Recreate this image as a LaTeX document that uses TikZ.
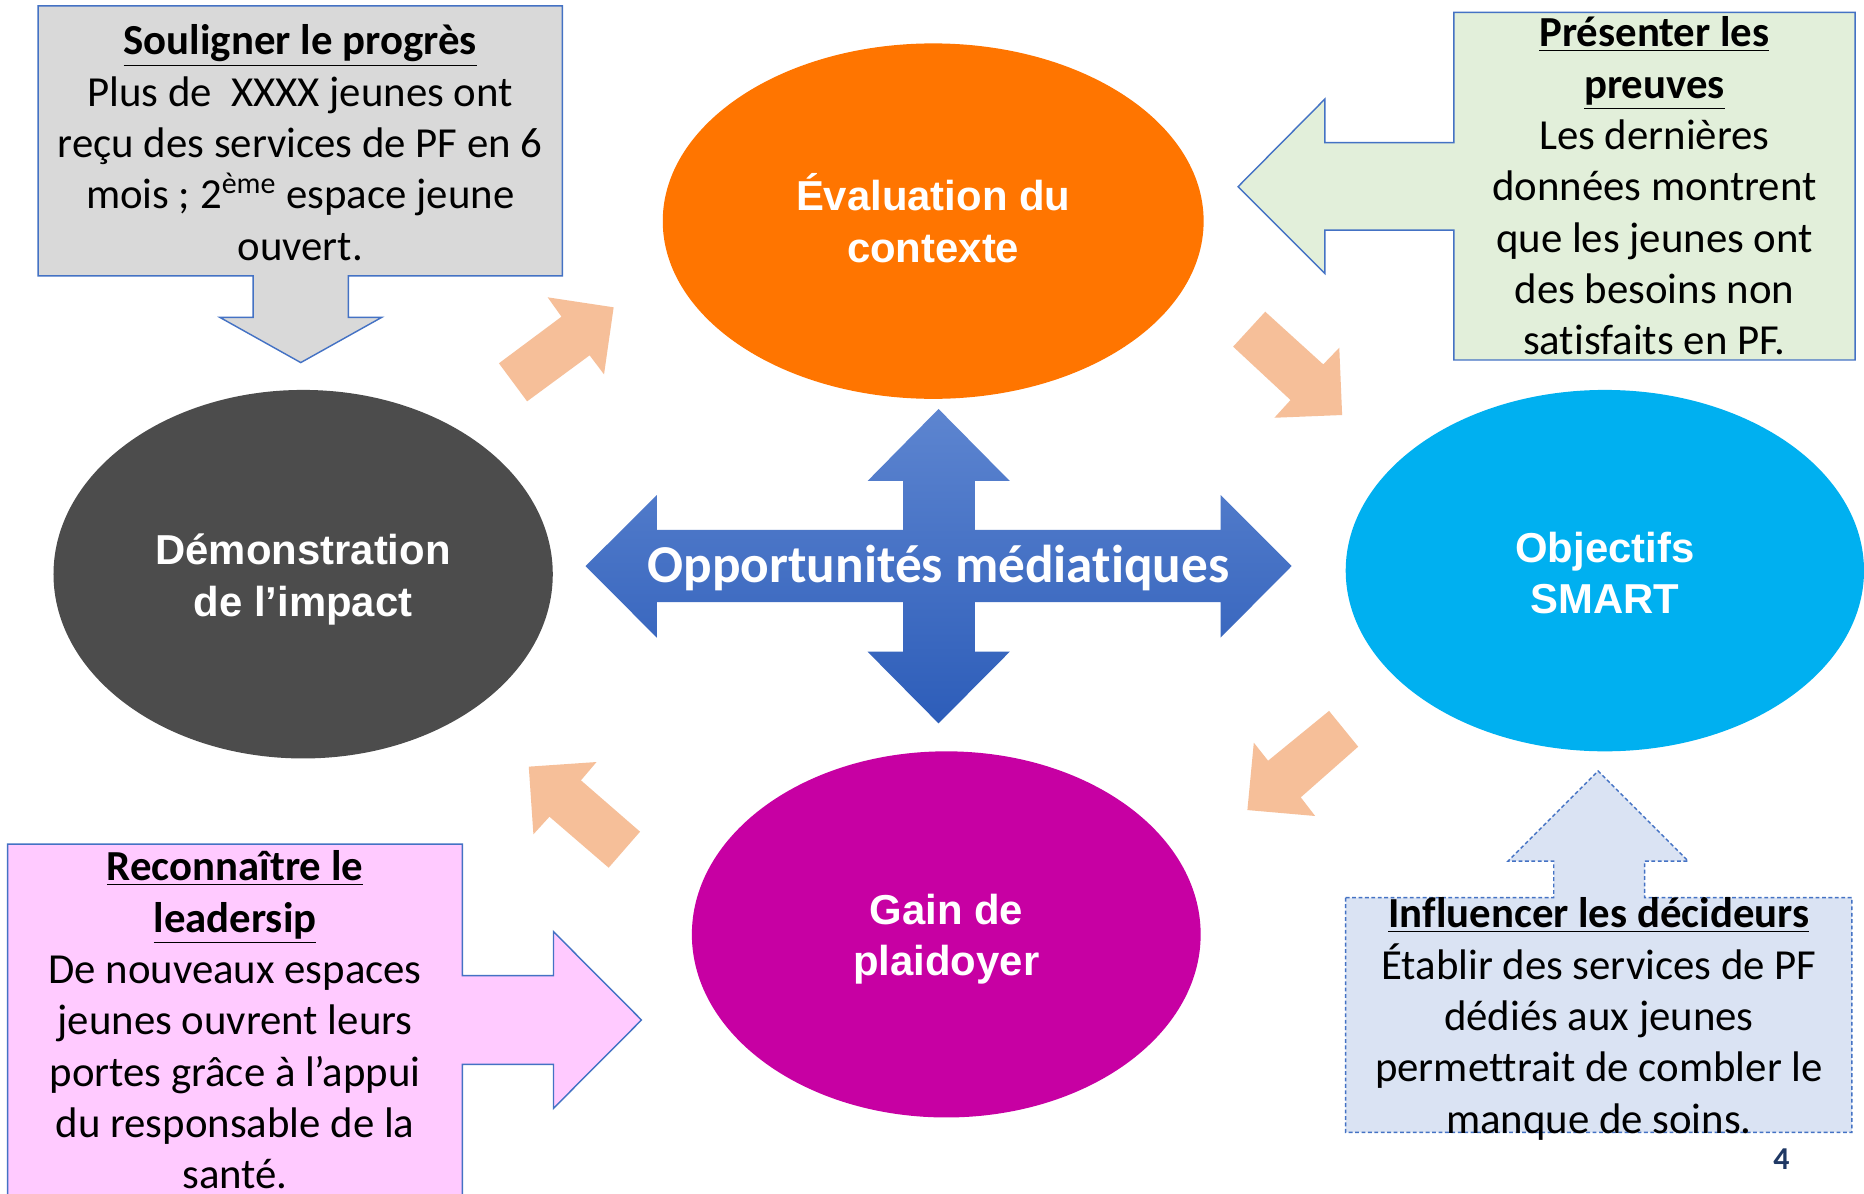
\documentclass[tikz,border=0pt]{standalone}
\usepackage{fontspec}
\setmainfont{Carlito}[Ligatures={NoCommon,TeX}]
\newfontfamily\arialf{Liberation Sans}
\usetikzlibrary{shapes.geometric}
\definecolor{orangeE}{RGB}{255,117,0}
\definecolor{darkE}{RGB}{76,76,76}
\definecolor{blueE}{RGB}{0,176,240}
\definecolor{magE}{RGB}{199,0,163}
\definecolor{peach}{RGB}{246,191,153}
\definecolor{outl}{RGB}{68,114,196}
\definecolor{grayF}{RGB}{217,217,217}
\definecolor{greenF}{RGB}{226,239,218}
\definecolor{pinkF}{RGB}{255,202,255}
\definecolor{blueF}{RGB}{218,227,243}
\definecolor{arrTop}{RGB}{93,133,208}
\definecolor{arrBot}{RGB}{45,93,185}
\definecolor{navy}{RGB}{31,56,100}
\begin{document}
\begin{tikzpicture}[x=0.5pt,y=-0.5pt,
  ell/.style={ellipse, inner sep=0pt},
  elltext/.style={inner sep=0pt, text=white, align=center,
    font=\arialf\bfseries\fontsize{17.6}{21.6}\selectfont},
  callout/.style={draw=outl, line width=0.6pt, line join=miter},
  bodytext/.style={inner sep=0pt, align=center, font=\fontsize{18}{21.6}\selectfont},
  peacharrow/.style={fill=peach, draw=none}]
\useasboundingbox (0,0) rectangle (1568,1003.6);
\fill[white] (0,0) rectangle (1568,1003.6);

% ellipses
\node[ell, fill=orangeE, minimum width=227.5pt, minimum height=149.5pt] (eval) at (785,186) {};
\node[ell, fill=darkE, minimum width=210pt, minimum height=155pt] (demo) at (255,483) {};
\node[ell, fill=blueE, minimum width=218pt, minimum height=152pt] (smart) at (1350,480) {};
\node[ell, fill=magE, minimum width=214pt, minimum height=154pt] (gain) at (796,786) {};
\node[elltext] (evaltxt) at (785,183.5) {Évaluation du\\contexte};
\node[elltext] (demotxt) at (255,487.5) {Démonstration\\de l’impact};
\node[elltext] (smarttxt) at (1350,482) {Objectifs\\SMART};
\node[elltext] (gaintxt) at (796,790) {Gain de\\plaidoyer};

% central quad arrow
\shade[top color=arrTop, bottom color=arrBot]
  (789.5,344) -- (849.4,404.6) -- (820,404.6) -- (820,445.8) -- (1026.7,445.8) -- (1026.7,416.4)
  -- (1086.5,476.2) -- (1026.7,536.4) -- (1026.7,506.4) -- (820,506.4) -- (820,548.2) -- (849.4,548.2)
  -- (789.5,608.5) -- (729.8,548.2) -- (759.6,548.2) -- (759.6,506.4) -- (552.5,506.4) -- (552.5,536.4)
  -- (492.6,476.2) -- (552.5,416.4) -- (552.5,445.8) -- (759.6,445.8) -- (759.6,404.6) -- (729.8,404.6) -- cycle;
\node[inner sep=0pt, text=white, font=\bfseries\fontsize{22.4}{26}\selectfont] (media) at (789.5,478) {Opportunités médiatiques};

% peach cycle arrows
\fill[peacharrow] (460.7,250.1) -- (516.2,258.5) -- (508.1,314.9) -- (496.0,298.9) -- (443.4,337.6) -- (419.7,305.6) -- (472.3,266.4) -- cycle;
\fill[peacharrow] (1064.3,262.2) -- (1113.1,306.5) -- (1126.6,292.5) -- (1129.0,349.1) -- (1072.0,351.4) -- (1085.6,336.5) -- (1037.3,291.6) -- cycle;
\fill[peacharrow] (1118,598) -- (1142.5,628.1) -- (1094.2,670.7) -- (1106.3,686.4) -- (1049.3,681.4) -- (1054.7,624.7) -- (1066.7,639.9) -- cycle;
\fill[peacharrow] (444.8,644.9) -- (501.8,641.0) -- (488.7,656.4) -- (538.4,699.6) -- (512.0,729.9) -- (462.2,687.0) -- (448.7,701.8) -- cycle;

% callouts
\filldraw[callout, fill=grayF] (32,5) -- (473,5) -- (473,232) -- (293,232) -- (293,267) -- (321,267) -- (253,305) -- (185,267) -- (213,267) -- (213,232) -- (32,232) -- cycle;
\filldraw[callout, fill=greenF] (1223,10.4) -- (1560.5,10.4) -- (1560.5,302.8) -- (1223,302.8) -- (1223,193.5) -- (1114.5,193.5) -- (1114.5,230) -- (1041.5,157) -- (1114.5,83.3) -- (1114.5,120) -- (1223,120) -- cycle;
\filldraw[callout, fill=pinkF] (6.4,710) -- (389,710) -- (389,820.7) -- (465.6,820.7) -- (465.6,783.7) -- (539.6,858) -- (465.6,932.3) -- (465.6,895.3) -- (389,895.3) -- (389,1012) -- (6.4,1012) -- cycle;
\filldraw[callout, fill=blueF, dash pattern=on 1.6pt off 1.1pt] (1132,755.1) -- (1307,755.1) -- (1307,724.3) -- (1268.6,724.3) -- (1344.3,648.6) -- (1420,724.3) -- (1383.4,724.3) -- (1383.4,755.1) -- (1557.8,755.1) -- (1557.8,952.5) -- (1132,952.5) -- cycle;

% callout texts
\node[bodytext] (progres) at (252.5,120) {\textbf{\underline{Souligner le progrès}}\\Plus de\ \ XXXX jeunes ont\\reçu des services de PF en 6\\mois ; 2\textsuperscript{ème} espace jeune\\ouvert.};
\node[bodytext] (preuves) at (1391.7,156.5) {\textbf{\underline{Présenter les}}\\\textbf{\underline{preuves}}\\Les dernières\\données montrent\\que les jeunes ont\\des besoins non\\satisfaits en PF.};
\node[bodytext] (leader) at (197.7,858) {\textbf{\underline{Reconnaître le}}\\\textbf{\underline{leadersip}}\\De nouveaux espaces\\jeunes ouvrent leurs\\portes grâce à l’appui\\du responsable de la\\santé.};
\node[bodytext] (decid) at (1345,857) {\textbf{\underline{Influencer les décideurs}}\\Établir des services de PF\\dédiés aux jeunes\\permettrait de combler le\\manque de soins.};

\node[inner sep=0pt, text=navy, font=\bfseries\fontsize{13.4}{16}\selectfont] (pnum) at (1498.5,975) {4};
\end{tikzpicture}
\end{document}
